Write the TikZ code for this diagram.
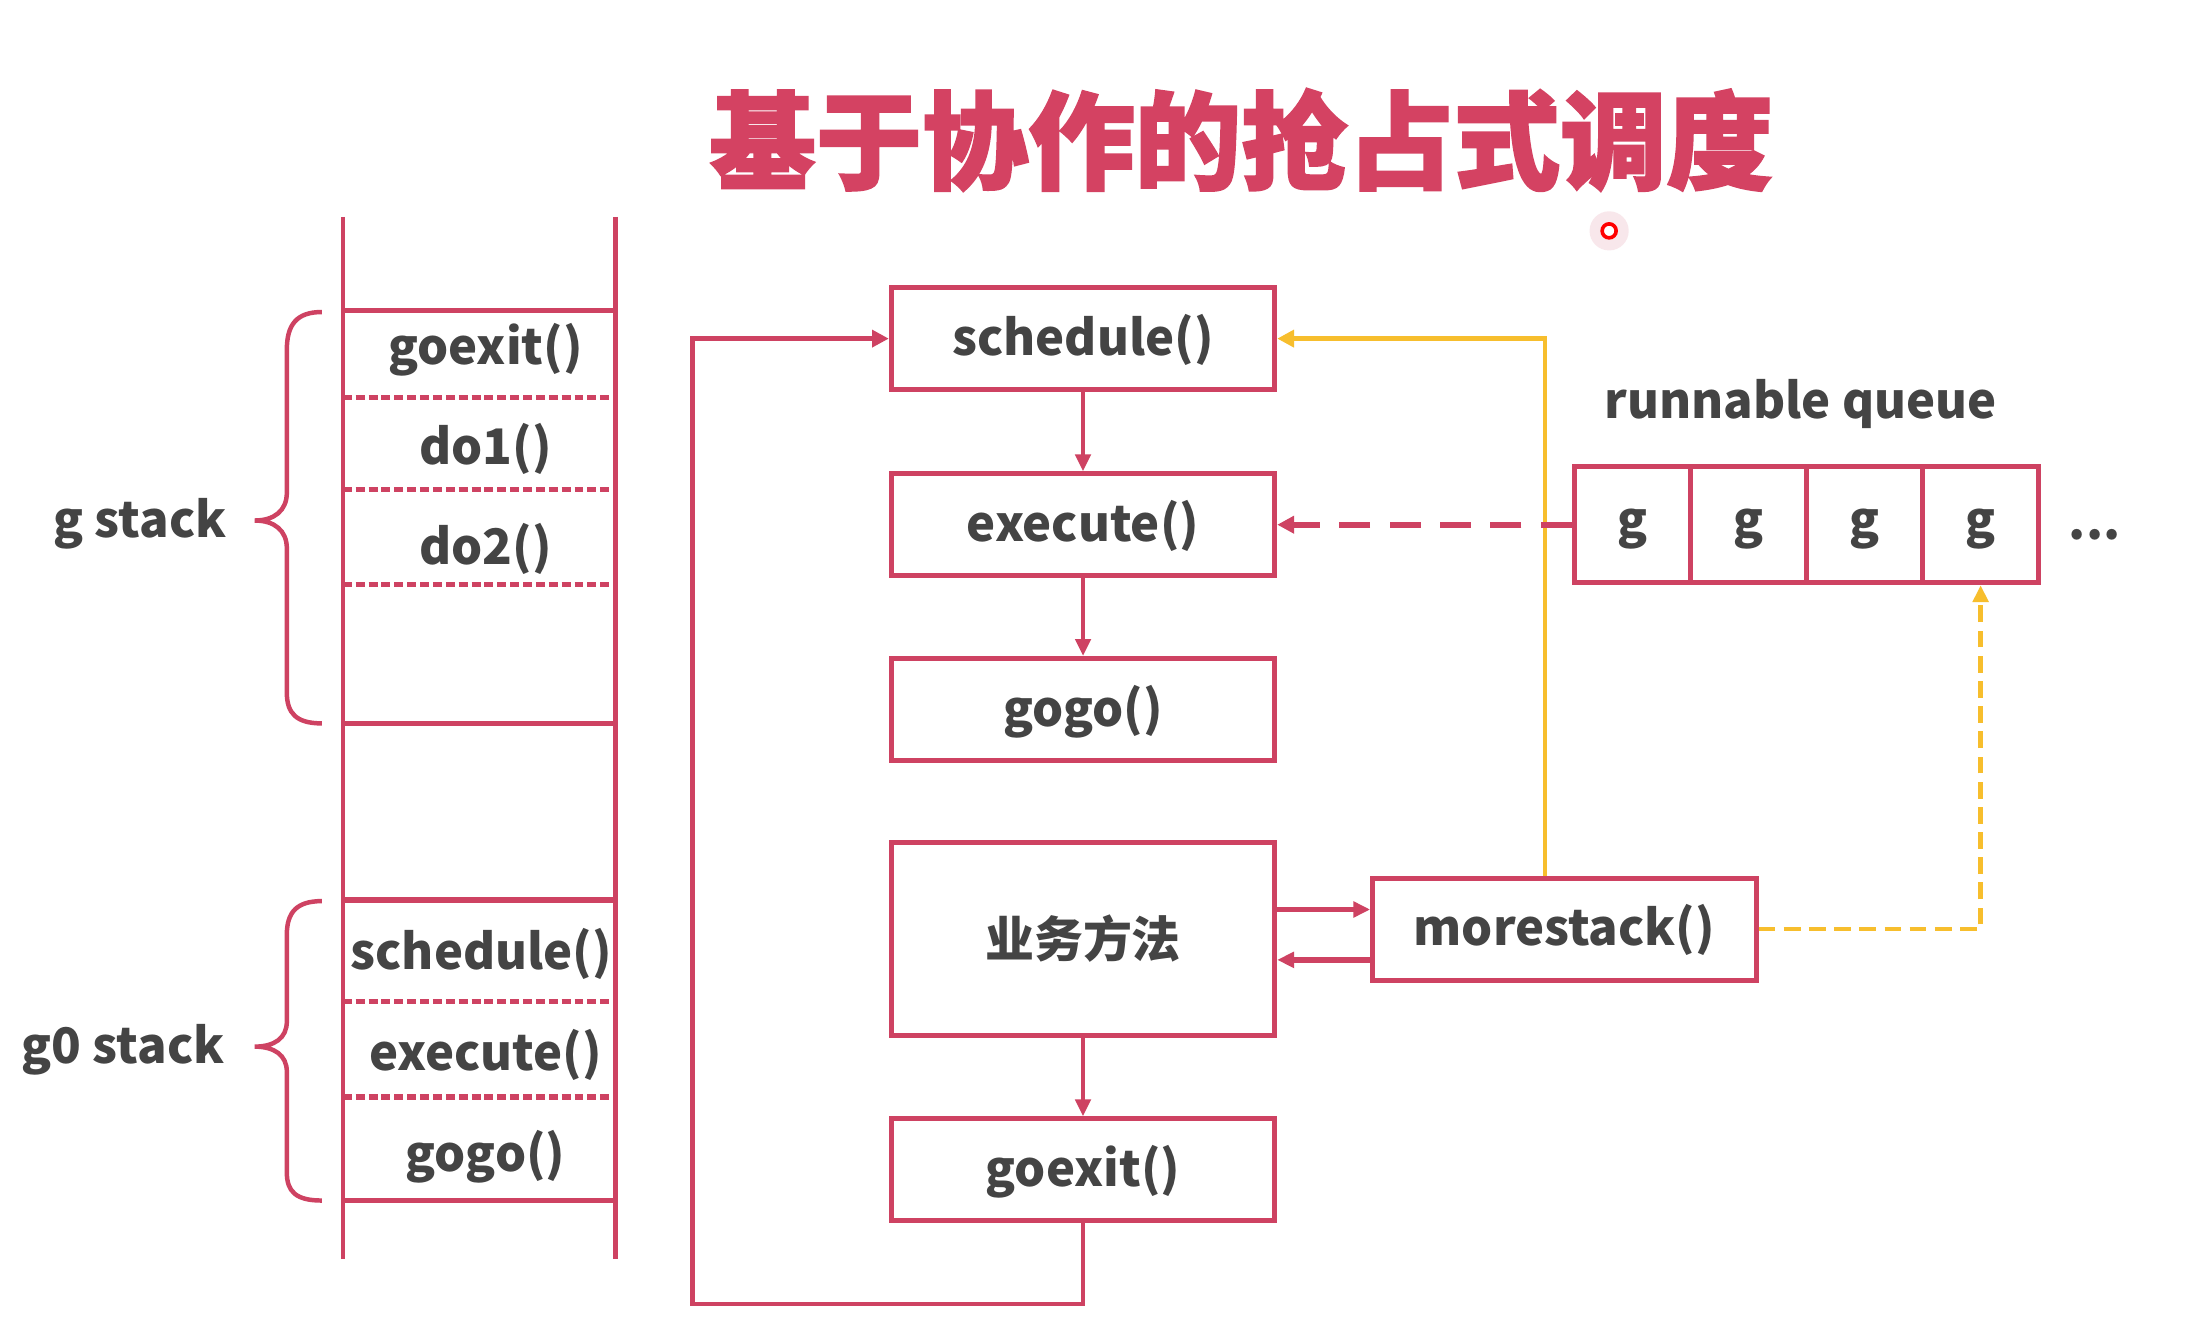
\documentclass[tikz,border=0pt]{standalone}
\usepackage{fontspec}
\setmainfont{Noto Sans CJK SC}
\newfontfamily\titlefont{Noto Sans CJK SC}[BoldFeatures={FakeBold=2}]
\usetikzlibrary{arrows.meta}
\definecolor{myred}{RGB}{206,66,98}
\definecolor{titlered}{RGB}{212,66,98}
\definecolor{mygray}{RGB}{68,68,68}
\definecolor{myyellow}{RGB}{247,190,45}
\newcommand\lblfont{\bfseries\fontsize{17.5pt}{20pt}\selectfont}
\tikzset{
  box/.style={draw=myred, line width=1.8pt, minimum width=137pt, minimum height=36.5pt, inner sep=0pt, font=\lblfont, text=mygray, text height=15pt, text depth=3pt},
  bizbox/.style={draw=myred, line width=1.8pt, minimum width=137pt, minimum height=69pt, inner sep=0pt, font=\lblfont, text=mygray},
  cell/.style={draw=myred, line width=1.8pt, minimum width=41.5pt, minimum height=41.5pt, inner sep=0pt, font=\lblfont, text=mygray, text height=12.5pt, text depth=3.5pt},
  lbl/.style={text=mygray, font=\lblfont, inner sep=0pt, yshift=-1pt},
  stk/.style={draw=myred, line width=1.6pt},
  stkthick/.style={draw=myred, line width=2pt},
  sdash/.style={draw=myred, line width=1.8pt, dash pattern=on 3.2pt off 1.4pt},
  conn/.style={draw=myred, line width=1.3pt, -{Triangle[length=6pt,width=5.5pt]}},
  loopline/.style={draw=myred, line width=1.6pt, -{Triangle[length=6pt,width=6pt]}},
  yconn/.style={draw=myyellow, line width=1.6pt, -{Triangle[length=6pt,width=6pt]}},
  ydash/.style={draw=myyellow, line width=1.7pt, dash pattern=on 6pt off 3pt, -{Triangle[length=6pt,width=5.5pt]}},
  rdash/.style={draw=myred, line width=2pt, dash pattern=on 11pt off 7pt, -{Triangle[length=6pt,width=6pt]}},
  bracestyle/.style={draw=myred, line width=1.6pt},
}
\begin{document}
\begin{tikzpicture}[x=0.5pt,y=-0.5pt]
\useasboundingbox[fill=white] (0,0) rectangle (1568,956);

% title
\node[text=titlered, font=\titlefont\bfseries\fontsize{38pt}{40pt}\selectfont, inner sep=0pt] (title) at (887,100) {基于协作的抢占式调度};

% pointer dot
\fill[myred!25, opacity=0.5] (1150,165) circle (7pt);
\draw[red, line width=1.3pt, fill=white] (1150,165) circle (2.5pt);

% stack
\draw[stk] (245,155) -- (245,900);
\draw[stk] (440,155) -- (440,900);
\draw[stkthick] (245,222) -- (440,222);
\draw[sdash] (245,284) -- (440,284);
\draw[sdash] (245,350) -- (440,350);
\draw[sdash] (245,418) -- (440,418);
\draw[stkthick] (245,517) -- (440,517);
\draw[stkthick] (245,643) -- (440,643);
\draw[sdash] (245,716) -- (440,716);
\draw[sdash] (245,784) -- (440,784);
\draw[stkthick] (245,858) -- (440,858);

\node[lbl] (s1) at (347,248) {goexit()};
\node[lbl] (s2) at (347,319) {do1()};
\node[lbl] (s3) at (347,390) {do2()};
\node[lbl] (s4) at (344,680) {schedule()};
\node[lbl] (s5) at (347,752) {execute()};
\node[lbl] (s6) at (347,825) {gogo()};

% braces
\draw[bracestyle] (230,223) .. controls (212,223) and (205,232) .. (205,250) -- (205,352) .. controls (205,365) and (196,372) .. (182,372) .. controls (196,372) and (205,379) .. (205,392) -- (205,495) .. controls (205,510) and (212,517) .. (230,517);
\draw[bracestyle] (230,644) .. controls (212,644) and (205,652) .. (205,668) -- (205,730) .. controls (205,742) and (196,748) .. (182,748) .. controls (196,748) and (205,754) .. (205,766) -- (205,838) .. controls (205,852) and (212,858) .. (230,858);
\node[lbl] (gst) at (100,372) {g stack};
\node[lbl] (g0st) at (88,748) {g0 stack};

% boxes
\node[box] (schedule) at (774,242) {schedule()};
\node[box] (execute) at (774,375) {execute()};
\node[box] (gogo) at (774,507) {gogo()};
\node[bizbox] (biz) at (774,671) {业务方法};
\node[box] (goexit) at (774,836) {goexit()};
\node[box] (morestack) at (1118,664) {morestack()};

% queue
\node[lbl] (rq) at (1287,287) {runnable queue};
\node[cell] (q1) at (1166.5,375) {g};
\node[cell] (q2) at (1249.5,375) {g};
\node[cell] (q3) at (1332.5,375) {g};
\node[cell] (q4) at (1415.5,375) {g};
\node[lbl] (dots) at (1497,380) {...};

% connectors
\draw[conn] (schedule) -- (execute);
\draw[conn] (execute) -- (gogo);
\draw[conn] (biz) -- (goexit);
\coordinate (loopL) at (495,932);
\draw[loopline] (goexit.south) |- (loopL) |- (schedule.west);

\coordinate (ya) at (0,650);
\coordinate (yb) at (0,686);
\draw[conn, line width=2pt] (biz.east |- ya) -- (morestack.west |- ya);
\draw[conn, line width=2pt] (morestack.west |- yb) -- (biz.east |- yb);

\coordinate (ytop) at (1104,242);
\draw[yconn] (morestack.north -| ytop) -- (ytop) -- (schedule.east);
\draw[rdash] (q1.west) -- (execute.east);
\draw[ydash] (morestack.east) -| (q4.south);
\end{tikzpicture}
\end{document}
